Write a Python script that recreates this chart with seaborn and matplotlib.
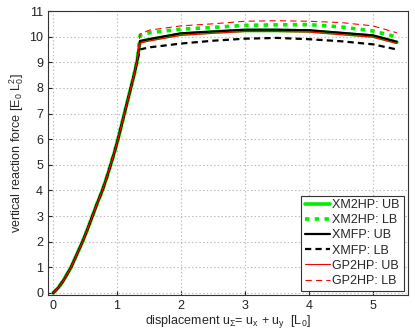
import numpy as np
import pandas as pd
import matplotlib
matplotlib.use('Agg')
import matplotlib.pyplot as plt
import seaborn as sns

# rising branch (shared by all bounds)
rise_x = [0.0, 0.08, 0.165, 0.28, 0.37, 0.46, 0.54, 0.615, 0.69, 0.77, 0.838,
          0.90, 0.96, 1.015, 1.065, 1.115, 1.165, 1.215, 1.265, 1.31]
rise_y = [0.0, 0.2, 0.5, 1.0, 1.5, 2.0, 2.5, 3.0, 3.5, 4.0, 4.5,
          5.0, 5.5, 6.0, 6.5, 7.0, 7.5, 8.0, 8.5, 9.0]

# plateau branch
plat_x = [1.36, 1.5, 2.0, 2.5, 3.0, 3.5, 4.0, 4.5, 5.0, 5.375]
xm2hp_ub = [9.80, 9.88, 10.10, 10.18, 10.24, 10.24, 10.22, 10.12, 10.02, 9.78]
xm2hp_lb = [10.05, 10.15, 10.29, 10.36, 10.44, 10.46, 10.47, 10.38, 10.22, 9.99]
xmfp_ub = [9.83, 9.90, 10.13, 10.20, 10.27, 10.27, 10.25, 10.15, 10.05, 9.80]
xmfp_lb = [9.50, 9.58, 9.73, 9.84, 9.92, 9.95, 9.90, 9.82, 9.70, 9.50]
gp2hp_ub = [9.75, 9.83, 10.05, 10.13, 10.20, 10.20, 10.18, 10.08, 9.98, 9.73]
gp2hp_lb = [10.10, 10.25, 10.42, 10.50, 10.60, 10.62, 10.60, 10.55, 10.42, 10.15]

labels = ['XM2HP: UB', 'XM2HP: LB', 'XMFP: UB', 'XMFP: LB', 'GP2HP: UB', 'GP2HP: LB']
series = [xm2hp_ub, xm2hp_lb, xmfp_ub, xmfp_lb, gp2hp_ub, gp2hp_lb]
colors = ['#00ee00', '#00ee00', 'black', 'black', 'red', 'red']
widths = [2.6, 2.6, 1.6, 1.6, 0.8, 0.8]
styles = ['-', (0, (3.2, 3.8)), '-', (0, (4.5, 3)), '-', (0, (4.5, 3))]

sns.set_style('ticks')
plt.rcParams['font.family'] = ['Liberation Sans', 'DejaVu Sans']
plt.rcParams['mathtext.default'] = 'regular'
plt.rcParams['font.size'] = 9
plt.rcParams['lines.scale_dashes'] = False
plt.rcParams['lines.dash_capstyle'] = 'butt'

fig = plt.figure(figsize=(4.15, 3.34), dpi=100)
ax = fig.add_axes([48 / 415, 1 - 295 / 334, 360 / 415, 284 / 334])

for lab, vals, c, lw, ls in zip(labels, series, colors, widths, styles):
    df = pd.DataFrame({'x': rise_x + plat_x, 'y': rise_y + vals})
    sns.lineplot(data=df, x='x', y='y', ax=ax, color=c, lw=lw, linestyle=ls,
                 label=lab, sort=False, estimator=None)

ax.set_xlim(-0.08, 5.55)
ax.set_ylim(-0.08, 11)
ax.set_xticks(range(0, 6))
ax.set_yticks(range(0, 12))
ax.tick_params(direction='in', length=3, labelsize=9, colors='#222222')
ax.grid(True, linestyle=':', color='#bbbbbb', linewidth=0.8)
for s in ax.spines.values():
    s.set_color('#333333')
    s.set_linewidth(0.8)

ax.set_xlabel(r'displacement u$_\Sigma$= u$_x$ + u$_y$  [L$_0$]', fontsize=9, labelpad=1)
ax.set_ylabel(r'vertical reaction force [E$_0$ L$_0^2$]', fontsize=9, labelpad=2)

leg = ax.legend(loc='lower right', fontsize=9, frameon=True, fancybox=False,
                handlelength=2.0, borderaxespad=0.35, labelspacing=0.25,
                handletextpad=0.2, borderpad=0.3)
leg.get_frame().set_edgecolor('#333333')
leg.get_frame().set_linewidth(0.8)
leg.get_frame().set_alpha(1)

fig.savefig('out.png', dpi=100)
